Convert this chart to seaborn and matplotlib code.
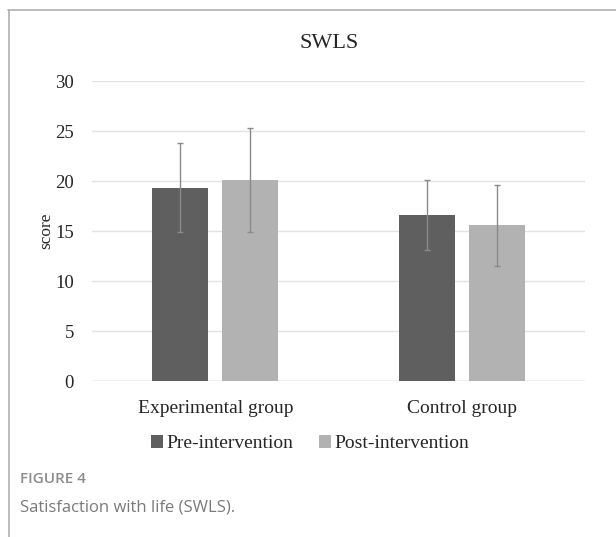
import numpy as np
import pandas as pd
import seaborn as sns
import matplotlib.pyplot as plt
from matplotlib.lines import Line2D

groups = ["Experimental group", "Control group"]
phases = ["Pre-intervention", "Post-intervention"]
pre_means = [19.35, 16.65]
post_means = [20.15, 15.6]
pre_sd = [4.45, 3.5]
post_sd = [5.2, 4.05]

df = pd.DataFrame({
    "group": groups * 2,
    "phase": [phases[0]] * 2 + [phases[1]] * 2,
    "score": pre_means + post_means,
})
sds = pre_sd + post_sd

sns.set_theme(style="white")
plt.rcParams['font.family'] = ['Liberation Serif', 'DejaVu Serif']

fig = plt.figure(figsize=(6.16, 5.37), dpi=100)
ax = fig.add_axes([0.1494, 0.2905, 0.8003, 0.5585])

sns.barplot(data=df, x="group", y="score", hue="phase", order=groups,
            hue_order=phases, palette=["#5f5f5f", "#b2b2b2"], width=0.568,
            gap=0.2, errorbar=None, ax=ax, zorder=3, linewidth=0)

# error bars at the bar centres (patches in hue order)
bars = [p for p in ax.patches if p.get_height() > 0][:4]
for p, sd in zip(bars, sds):
    cx = p.get_x() + p.get_width() / 2
    ax.errorbar(cx, p.get_height(), yerr=sd, color="#8a8a8a", lw=1,
                capsize=2.5, capthick=1, zorder=4)

ax.set_xlim(-0.5, 1.5)
ax.set_ylim(0, 30)
ax.set_yticks(range(0, 31, 5))
ax.yaxis.grid(True, color="#e3e3e3", lw=1)
ax.axhline(0, color="#d6d6d6", lw=1, zorder=2)
ax.set_axisbelow(True)
for s in ax.spines.values():
    s.set_visible(False)
ax.tick_params(axis="y", labelsize=13.5, pad=13, length=0)
ax.tick_params(axis="x", labelsize=14, pad=13.5, length=0)
ax.set_xlabel("")
ax.set_ylabel("score", fontsize=12.5, labelpad=1)
ax.set_title("SWLS", fontsize=16, pad=24, x=0.48)

leg = ax.legend(loc="upper center", bbox_to_anchor=(0.442, -0.122), ncol=2,
                frameon=False, fontsize=14, handlelength=0.62, handleheight=0.62,
                handletextpad=0.2, columnspacing=1.3)

# frame lines around the figure panel
fig.add_artist(Line2D([8 / 616, 1], [1 - 10 / 537] * 2, color="#b0b0b0", lw=1.2))
fig.add_artist(Line2D([9 / 616] * 2, [0, 1 - 10 / 537], color="#b0b0b0", lw=1.2))

fig.text(20 / 616, 1 - 479 / 537, "FIGURE 4", family="Open Sans",
         fontsize=11, fontweight="semibold", color="#8c8c8c", va="center")
fig.text(20 / 616, 1 - 507 / 537, "Satisfaction with life (SWLS).",
         family="Open Sans", fontsize=12, color="#7a7a7a", va="center")

fig.savefig("out.png", dpi=100)
